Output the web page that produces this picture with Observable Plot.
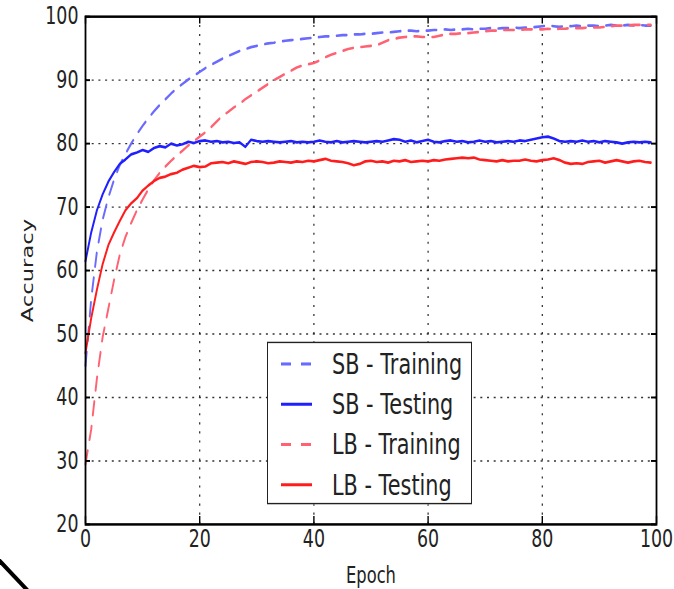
<!DOCTYPE html>
<html><head><meta charset="utf-8">
<script src="https://cdn.jsdelivr.net/npm/d3@7"></script>
<script src="https://cdn.jsdelivr.net/npm/@observablehq/plot@0.6"></script>
<style>
html,body{margin:0;padding:0;background:#fff;overflow:hidden;width:674px;height:589px}
#wrap{position:absolute;left:0;top:0;width:674px;height:440px;transform:scaleY(1.3892);transform-origin:0 0;font-family:"DejaVu Sans"}
#legend{position:absolute;left:267px;top:246px;width:205px;height:117px;border:1.6px solid #222;background:#fff;box-sizing:border-box}
.row{position:absolute;left:0;height:29px;display:flex;align-items:center;font-size:20.8px;color:#222;white-space:nowrap}
.row svg{margin-left:13px;margin-right:19px}
#artifact{position:absolute;left:0;top:555px}
</style>
</head><body>
<div id="wrap"><div id="chart"></div><div id="legend"></div></div>
<svg id="artifact" width="40" height="34"><line x1="-4" y1="2" x2="30" y2="38" stroke="#000" stroke-width="4"/></svg>
<script>
const xTicks = [0, 20, 40, 60, 80, 100];
const yTicks = [20, 30, 40, 50, 60, 70, 80, 90, 100];
const xGrid = [20, 40, 60, 80];
const yGrid = [30, 40, 50, 60, 70, 80, 90];
const seriesNames = ["SB - Training", "SB - Testing", "LB - Training", "LB - Testing"];

const sbTrain = [45.0,55.5,63.0,68.0,71.5,74.3,76.6,78.4,80.0,81.5,
82.8,84.0,85.1,86.1,87.0,87.9,88.7,89.4,90.1,90.7,
91.3,91.9,92.4,92.9,93.4,93.8,94.2,94.6,94.9,95.2,
95.4,95.6,95.8,95.9,96.1,96.2,96.3,96.4,96.5,96.6,
96.7,96.8,96.9,96.9,97.0,97.1,97.1,97.2,97.2,97.3,
97.3,97.4,97.5,97.5,97.6,97.7,97.8,97.8,97.7,97.8,
97.8,97.9,97.9,98.0,97.9,98.0,98.0,98.1,98.0,98.1,
98.1,98.2,98.1,98.2,98.2,98.3,98.2,98.3,98.3,98.4,
98.5,98.6,98.5,98.4,98.5,98.5,98.6,98.5,98.6,98.6,
98.5,98.6,98.7,98.6,98.6,98.7,98.6,98.7,98.6,98.6];

const sbTest = [61.5,66.0,69.5,72.0,74.0,75.5,76.8,77.5,78.3,78.6,
79.0,78.7,79.3,79.6,79.4,80.0,79.7,79.9,80.3,80.1,
80.4,80.5,80.3,80.4,80.2,80.3,80.1,80.2,79.5,80.6,
80.4,80.3,80.4,80.3,80.2,80.3,80.4,80.2,80.3,80.2,
80.3,80.5,80.3,80.2,80.4,80.2,80.3,80.4,80.3,80.2,
80.3,80.4,80.3,80.5,80.7,80.6,80.3,80.5,80.2,80.4,
80.6,80.3,80.2,80.4,80.5,80.3,80.4,80.2,80.3,80.5,
80.3,80.4,80.2,80.3,80.4,80.3,80.5,80.4,80.6,80.8,
81.0,81.1,80.8,80.4,80.3,80.4,80.3,80.5,80.3,80.4,
80.2,80.4,80.3,80.2,80.0,80.2,80.3,80.2,80.3,80.2];

const lbTrain = [29.5,35.0,43.0,49.5,54.0,58.5,62.5,65.3,67.5,69.5,
71.2,72.8,74.2,75.4,76.4,77.3,78.1,78.9,79.7,80.4,
81.1,81.8,82.6,83.5,84.4,85.0,85.7,86.3,87.0,87.6,
88.2,88.8,89.4,90.0,90.5,91.0,91.5,92.0,92.3,92.5,
92.7,93.1,93.6,94.0,94.3,94.6,94.9,95.1,95.2,95.3,
95.4,95.5,95.9,96.3,96.5,96.7,96.8,96.9,96.9,96.8,
96.8,96.8,97.0,97.2,97.3,97.3,97.4,97.4,97.5,97.6,
97.7,97.8,97.8,97.9,97.9,97.9,97.9,98.0,98.0,98.0,
98.0,98.1,98.0,98.1,98.1,98.2,98.2,98.2,98.3,98.3,
98.3,98.4,98.5,98.6,98.6,98.6,98.7,98.7,98.7,98.7];

const lbTest = [47.0,52.5,57.0,61.0,64.0,66.0,67.8,69.5,70.6,71.4,
72.6,73.4,74.1,74.6,74.8,75.2,75.4,75.9,76.2,76.5,
76.3,76.4,76.9,77.0,77.1,76.9,77.2,77.0,76.8,77.1,
77.2,77.1,76.9,77.0,77.2,77.1,77.0,77.2,77.1,77.3,
77.2,77.4,77.6,77.3,77.2,77.1,76.9,76.6,76.8,77.2,
77.3,77.1,77.2,77.0,77.3,77.2,77.4,77.1,77.2,77.3,
77.2,77.4,77.3,77.5,77.6,77.7,77.8,77.7,77.8,77.5,
77.4,77.3,77.2,77.4,77.2,77.3,77.3,77.5,77.3,77.2,
77.4,77.5,77.7,77.4,77.0,76.8,76.9,76.8,77.1,77.2,
77.3,77.0,77.2,77.4,77.2,77.0,77.2,77.3,77.1,77.0];

const series = [
  {name: seriesNames[0], values: sbTrain, color: "#6a6aff", dash: "10,8"},
  {name: seriesNames[1], values: sbTest, color: "#1f1fff", dash: null},
  {name: seriesNames[2], values: lbTrain, color: "#ff6272", dash: "10,8"},
  {name: seriesNames[3], values: lbTest, color: "#ff1c1c", dash: null}
];

const W = 674, H = 440, mL = 85, mR = 18, mT = 11.5, mB = 63;
const iW = W - mL - mR, iH = H - mT - mB;

const lines = series.map(s => Plot.line(s.values, {
  x: (d, i) => i, y: d => d, stroke: s.color, strokeWidth: 1.9,
  strokeDasharray: s.dash || undefined
}));

const chart = Plot.plot({
  width: W, height: H,
  marginLeft: mL, marginRight: mR, marginTop: mT, marginBottom: mB,
  x: {domain: [0, 100]},
  y: {domain: [20, 100]},
  style: {fontFamily: "DejaVu Sans", fontSize: "17.4px", color: "#222", background: "transparent", overflow: "visible"},
  marks: [
    Plot.gridX(xGrid, {stroke: "#000", strokeOpacity: 0.85, strokeWidth: 1.2, strokeDasharray: "1.5,5"}),
    Plot.gridY(yGrid, {stroke: "#000", strokeOpacity: 0.8, strokeWidth: 1.0, strokeDasharray: "2,4.7"}),
    ...lines,
    Plot.ruleX(xTicks, {x: d => d, insetTop: iH - 5.5, stroke: "#000", strokeWidth: 1.4}),
    Plot.ruleX(xTicks, {x: d => d, insetBottom: iH - 5.5, stroke: "#000", strokeWidth: 1.4}),
    Plot.ruleY(yTicks, {y: d => d, insetRight: iW - 5, stroke: "#000", strokeWidth: 1.4}),
    Plot.ruleY(yTicks, {y: d => d, insetLeft: iW - 5, stroke: "#000", strokeWidth: 1.4}),
    Plot.frame({stroke: "#000", strokeWidth: 1.8}),
    Plot.axisX(xTicks, {tickSize: 0, tickPadding: 4, label: null}),
    Plot.axisX({tickSize: 0, ticks: [], label: "Epoch", labelAnchor: "center", labelArrow: "none", labelOffset: 42.5, fontSize: 16.3}),
    Plot.axisY(yTicks, {tickSize: 0, tickPadding: 7, label: null}),
    Plot.axisY({tickSize: 0, ticks: [], label: "Accuracy", labelAnchor: "center", labelArrow: "none", labelOffset: 64, fontSize: 16.3})
  ]
});
document.getElementById("chart").appendChild(chart);

const legend = document.getElementById("legend");
series.forEach((s, i) => {
  const row = document.createElement("div");
  row.className = "row";
  row.style.top = (0.3 + i * 29) + "px";
  const sample = s.dash
    ? `<line x1="0" y1="5" x2="10" y2="5" stroke="${s.color}" stroke-width="2.2"/><line x1="20" y1="5" x2="30" y2="5" stroke="${s.color}" stroke-width="2.2"/>`
    : `<line x1="0" y1="5" x2="31" y2="5" stroke="${s.color}" stroke-width="2.2"/>`;
  row.innerHTML = `<svg width="32" height="10">${sample}</svg><span>${s.name}</span>`;
  legend.appendChild(row);
});
</script>
</body></html>
